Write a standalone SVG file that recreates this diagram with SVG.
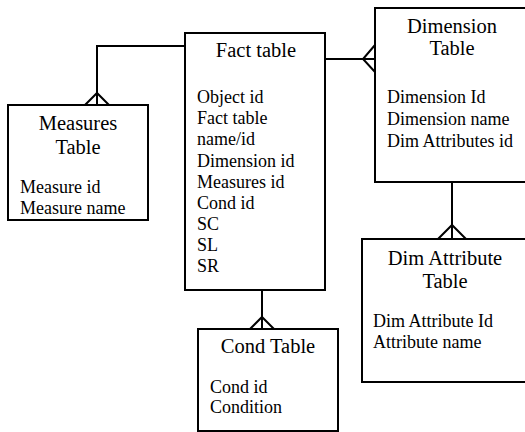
<svg xmlns="http://www.w3.org/2000/svg" width="525" height="432" viewBox="0 0 525 432">
<style>
.box{fill:#fff;stroke:#000;stroke-width:2}
.ln{fill:none;stroke:#000;stroke-width:2}
.t{font-family:"Liberation Serif","Times New Roman",serif;font-size:20.5px;fill:#000;text-anchor:middle}
.b{font-family:"Liberation Serif","Times New Roman",serif;font-size:18px;fill:#000}
</style>
<rect width="525" height="432" fill="#fff"/>
<g id="connectors">
<path class="ln" d="M185,46 H97 V105"/>
<path class="ln" d="M85,105 L97,93 L109,105"/>
<path class="ln" d="M325,59 H375"/>
<path class="ln" d="M375,45 L363,59 L375,72"/>
<path class="ln" d="M452,182 V239"/>
<path class="ln" d="M438,239 L452,225 L466,239"/>
<path class="ln" d="M262,290 V329"/>
<path class="ln" d="M250,329 L262,317 L274,329"/>
</g>
<g id="fact">
<rect class="box" x="185" y="33" width="140" height="257"/>
<text class="t" x="256" y="57">Fact table</text>
<text class="b" x="197" y="103">Object id</text>
<text class="b" x="197" y="124">Fact table</text>
<text class="b" x="197" y="145">name/id</text>
<text class="b" x="197" y="167">Dimension id</text>
<text class="b" x="197" y="188">Measures id</text>
<text class="b" x="197" y="209">Cond id</text>
<text class="b" x="197" y="230">SC</text>
<text class="b" x="197" y="251">SL</text>
<text class="b" x="197" y="272">SR</text>
</g>
<g id="measures">
<rect class="box" x="8" y="105" width="140" height="115"/>
<text class="t" x="78" y="130">Measures</text>
<text class="t" x="78" y="154">Table</text>
<text class="b" x="20" y="193">Measure id</text>
<text class="b" x="20" y="214">Measure name</text>
</g>
<g id="dimension">
<rect class="box" x="375" y="8" width="160" height="174"/>
<text class="t" x="452" y="33">Dimension</text>
<text class="t" x="452" y="55">Table</text>
<text class="b" x="387" y="103">Dimension Id</text>
<text class="b" x="387" y="125">Dimension name</text>
<text class="b" x="387" y="147">Dim Attributes id</text>
</g>
<g id="dimattr">
<rect class="box" x="362" y="239" width="175" height="143"/>
<text class="t" x="445" y="265">Dim Attribute</text>
<text class="t" x="445" y="288">Table</text>
<text class="b" x="373" y="327">Dim Attribute Id</text>
<text class="b" x="373" y="348">Attribute name</text>
</g>
<g id="cond">
<rect class="box" x="198" y="329" width="140" height="102"/>
<text class="t" x="268" y="353">Cond Table</text>
<text class="b" x="210" y="393">Cond id</text>
<text class="b" x="210" y="413">Condition</text>
</g>
</svg>
